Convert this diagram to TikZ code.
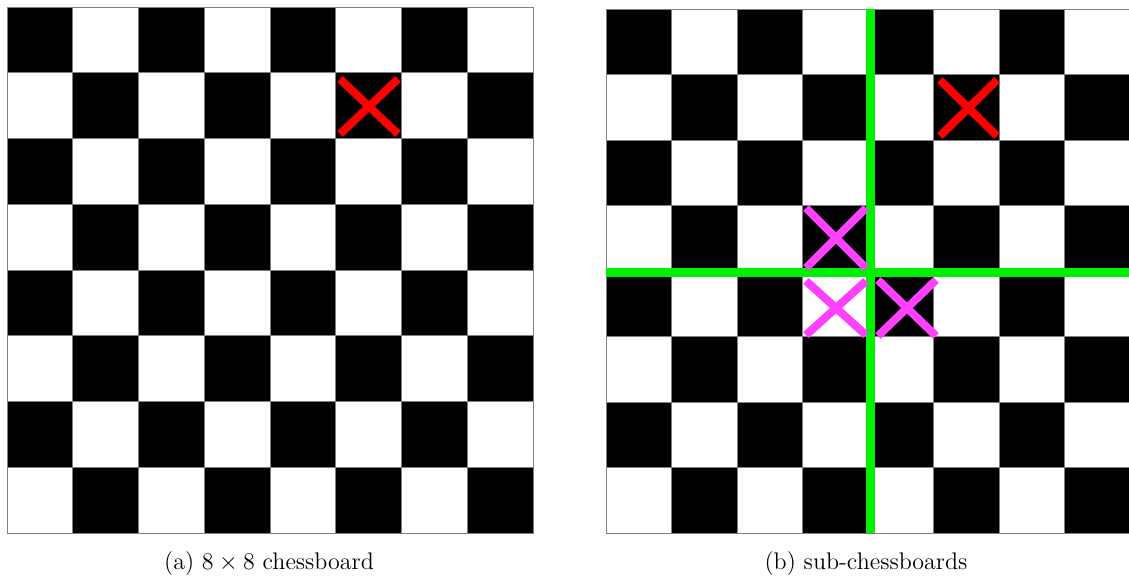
\documentclass[tikz,border=0pt]{standalone}
\usepackage{tikz}

\definecolor{crossred}{RGB}{255,0,0}
\definecolor{crossmagenta}{RGB}{255,64,255}
\definecolor{splitgreen}{RGB}{0,240,0}

\tikzset{
  cell/.style={draw=gray, line width=0.5pt},
  cross/.style={line width=4pt},
  split/.style={draw=splitgreen, line width=4.5pt},
  caption/.style={font=\fontsize{12}{14}\selectfont}
}

\begin{document}
\begin{tikzpicture}[x=0.5pt,y=-0.5pt]
    \useasboundingbox (0,0) rectangle (1129,579);

    % left board
    \foreach \r in {0,...,7}
      \foreach \c in {0,...,7}{
        \pgfmathtruncatemacro{\k}{mod(\r+\c,2)}
        \ifnum\k=0 \def\sq{black}\else \def\sq{white}\fi
        \path [cell, fill=\sq] (7+65.75*\c,7+65.75*\r) rectangle ++(65.75,65.75);
      }
    \draw [cross, crossred] (340,79)--(398,134) (340,134)--(398,79);

    % right board
    \foreach \r in {0,...,7}
      \foreach \c in {0,...,7}{
        \pgfmathtruncatemacro{\k}{mod(\r+\c,2)}
        \ifnum\k=0 \def\sq{black}\else \def\sq{white}\fi
        \path [cell, fill=\sq] (606+65.5*\c,9+65.5*\r) rectangle ++(65.5,65.5);
      }
    \draw [split] (870,9)--(870,533);
    \draw [split] (606,272)--(1129,272);
    \draw [cross, crossred] (940,80)--(997,136) (940,136)--(997,80);
    \draw [cross, crossmagenta] (806,208)--(866,268) (806,268)--(866,208);
    \draw [cross, crossmagenta] (806,281)--(866,335) (806,335)--(866,281);
    \draw [cross, crossmagenta] (878,280)--(936,336) (878,336)--(936,280);

    \node [caption] (capa) at (269,563) {(a) $8\times 8$ chessboard};
    \node [caption] (capb) at (866,563) {(b) sub-chessboards};
\end{tikzpicture}
\end{document}
